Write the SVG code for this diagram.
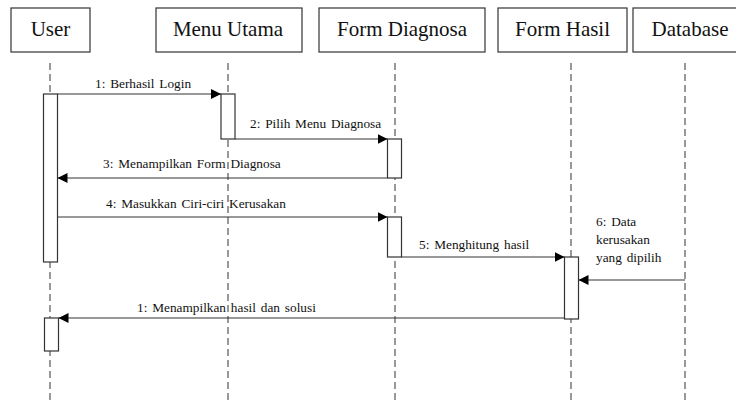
<svg xmlns="http://www.w3.org/2000/svg" width="736" height="401" viewBox="0 0 736 401">
<defs>
<marker id="arr" viewBox="0 0 10 10" refX="10" refY="5" markerWidth="10" markerHeight="10" markerUnits="userSpaceOnUse" orient="auto">
<path d="M0,0 L10,5 L0,10 Z" fill="#000"/>
</marker>
<style>
.box{fill:#fff;stroke:#333;stroke-width:1.2}
.hdr{font-family:"Liberation Serif",serif;font-size:21px;fill:#111;text-anchor:middle}
.life{stroke:#555;stroke-width:1.2;stroke-dasharray:7,4;fill:none}
.act{fill:#fff;stroke:#333;stroke-width:1.2}
.msg{stroke:#333;stroke-width:1.2;fill:none;marker-end:url(#arr)}
.lbl{font-family:"Liberation Serif",serif;font-size:13.3px;fill:#111;word-spacing:1.5px}
</style>
</defs>
<rect width="736" height="401" fill="#fff"/>
<g id="lifelines">
<line class="life" x1="50" y1="63" x2="50" y2="401"/>
<line class="life" x1="228" y1="63" x2="228" y2="401"/>
<line class="life" x1="395" y1="63" x2="395" y2="401"/>
<line class="life" x1="571" y1="63" x2="571" y2="401"/>
<line class="life" x1="685" y1="63" x2="685" y2="401"/>
</g>
<g id="user"><rect class="box" x="11" y="8" width="79" height="44"/><text class="hdr" x="50.5" y="36">User</text></g>
<g id="menu-utama"><rect class="box" x="156" y="8" width="146" height="44"/><text class="hdr" x="228" y="36">Menu Utama</text></g>
<g id="form-diagnosa"><rect class="box" x="319" y="8" width="166" height="44"/><text class="hdr" x="402" y="36">Form Diagnosa</text></g>
<g id="form-hasil"><rect class="box" x="498" y="8" width="129" height="44"/><text class="hdr" x="562.5" y="36">Form Hasil</text></g>
<g id="database"><rect class="box" x="633" y="8" width="106" height="44"/><text class="hdr" x="690" y="36">Database</text></g>
<g id="activations">
<rect class="act" x="43.5" y="94" width="14" height="168"/>
<rect class="act" x="221" y="94" width="14" height="45"/>
<rect class="act" x="387.5" y="139" width="14" height="39"/>
<rect class="act" x="387.5" y="217" width="14" height="40"/>
<rect class="act" x="564.5" y="257" width="14" height="62"/>
<rect class="act" x="44.5" y="318" width="14" height="33"/>
</g>
<g id="connectors">
<line class="msg" x1="57.5" y1="94" x2="221" y2="94"/>
<line class="msg" x1="235" y1="139" x2="387.5" y2="139"/>
<line class="msg" x1="387.5" y1="178" x2="57.5" y2="178"/>
<line class="msg" x1="57.5" y1="217" x2="387.5" y2="217"/>
<line class="msg" x1="401.5" y1="257" x2="564.5" y2="257"/>
<line class="msg" x1="685" y1="280" x2="578.5" y2="280"/>
<line class="msg" x1="564.5" y1="318" x2="58.5" y2="318"/>
</g>
<g id="labels">
<text class="lbl" x="95" y="88">1: Berhasil Login</text>
<text class="lbl" x="250" y="128">2: Pilih Menu Diagnosa</text>
<text class="lbl" x="103" y="168">3: Menampilkan Form Diagnosa</text>
<text class="lbl" x="106" y="208">4: Masukkan Ciri-ciri Kerusakan</text>
<text class="lbl" x="419" y="249">5: Menghitung hasil</text>
<text class="lbl" x="596" y="226">6: Data</text>
<text class="lbl" x="596" y="244">kerusakan</text>
<text class="lbl" x="596" y="262">yang dipilih</text>
<text class="lbl" x="137" y="312">1: Menampilkan hasil dan solusi</text>
</g>
</svg>
